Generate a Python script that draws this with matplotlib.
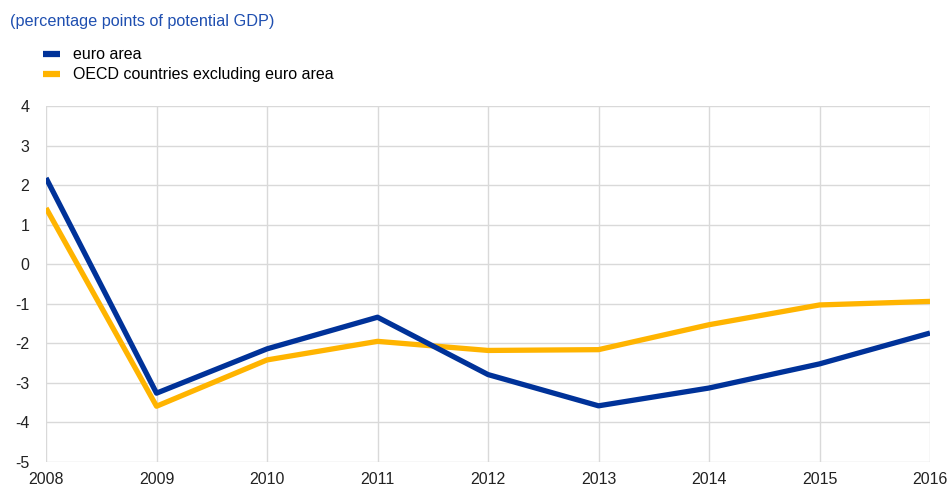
import matplotlib.pyplot as plt

# Data
years = [2008, 2009, 2010, 2011, 2012, 2013, 2014, 2015, 2016]
euro_area = [2.18, -3.26, -2.14, -1.34, -2.79, -3.58, -3.13, -2.52, -1.74]
oecd_ex_ea = [1.42, -3.59, -2.42, -1.95, -2.18, -2.16, -1.53, -1.03, -0.94]
labels = ['euro area', 'OECD countries excluding euro area']

plt.rcParams['font.family'] = ['Liberation Sans', 'DejaVu Sans']
plt.rcParams['axes.unicode_minus'] = False

fig = plt.figure(figsize=(9.49, 4.88), dpi=100)
ax = fig.add_axes([0.0485, 0.0533, 0.9315, 0.7295])

blue = '#003299'
yellow = '#FFB400'
ax.plot(years, euro_area, color=blue, lw=3.8, label=labels[0], solid_capstyle='butt', zorder=3)
ax.plot(years, oecd_ex_ea, color=yellow, lw=3.8, label=labels[1], solid_capstyle='butt', zorder=2)

ax.set_xlim(2008, 2016)
ax.set_ylim(-5, 4)
ax.set_xticks(years)
ax.set_yticks(range(-5, 5))
ax.grid(True, color='#d9d9d9', lw=1)
ax.set_axisbelow(True)
for s in ax.spines.values():
    s.set_visible(False)
ax.tick_params(length=0, labelsize=11.5, colors='#222222')
ax.tick_params(axis='y', pad=12)
ax.tick_params(axis='x', pad=7)

fig.text(0.0105, 0.955, '(percentage points of potential GDP)', color='#1f4fb0',
         fontsize=11.7, va='center')

handles, lbls = ax.get_legend_handles_labels()
leg = fig.legend(handles, lbls, loc='upper left', bbox_to_anchor=(0.045, 0.903),
                 frameon=False, fontsize=11.5, handlelength=1.1, handletextpad=0.8,
                 labelspacing=0.3, borderaxespad=0, borderpad=0)
for line in leg.get_lines():
    line.set_linewidth(4.5)

fig.savefig('out.png', dpi=100)
